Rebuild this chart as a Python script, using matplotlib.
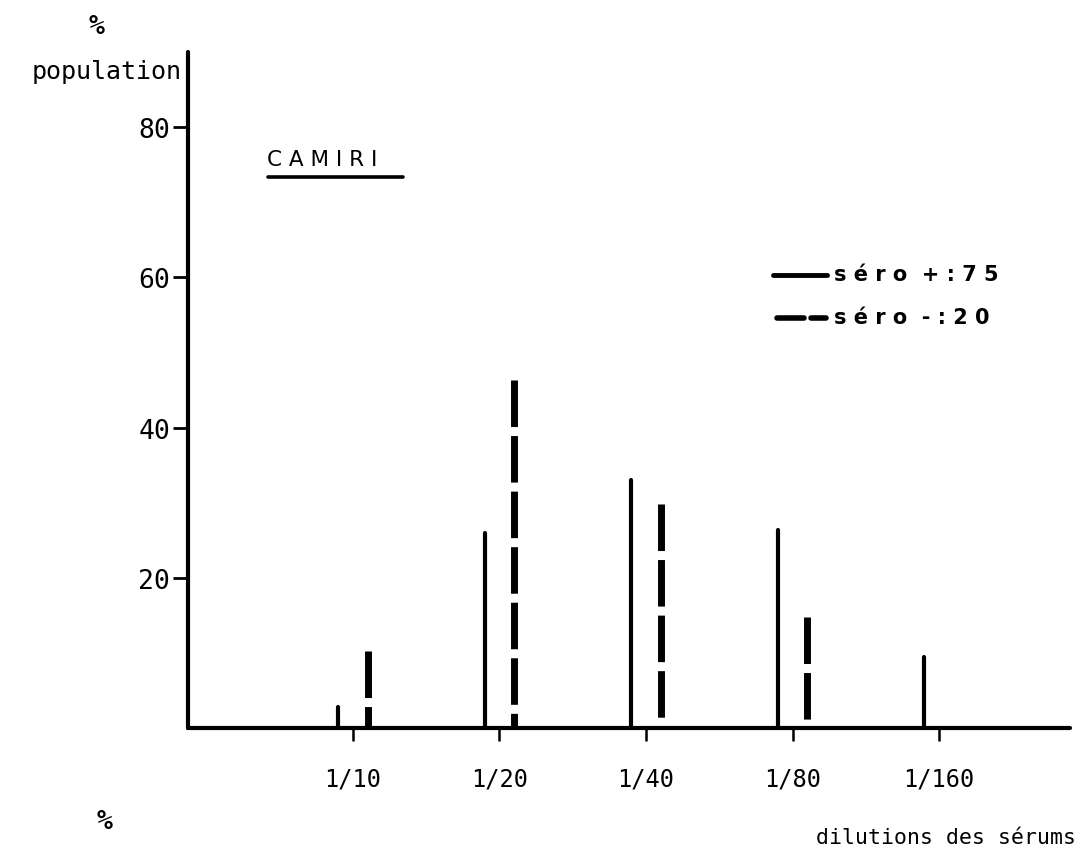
import matplotlib
matplotlib.use("Agg")
import matplotlib.pyplot as plt
from matplotlib.lines import Line2D

# Serum dilutions and % of population at each titre
dilutions = ["1/10", "1/20", "1/40", "1/80", "1/160"]
sero_pos = [2.8, 26.0, 33.0, 26.3, 9.5]     # séro + (n = 75)
sero_neg = [10.3, 46.3, 29.8, 14.8]         # séro - (n = 20), none at 1/160
y_ticks = [20, 40, 60, 80]

W, H, DPI = 1085, 854, 100
fig = plt.figure(figsize=(W / DPI, H / DPI), dpi=DPI)
fig.patch.set_facecolor("white")

def fx(px):
    return px / W

def fy(py):
    return 1 - py / H

ax = fig.add_axes([fx(188), fy(729), fx(1070) - fx(188), fy(53) - fy(729)])
ax.set_xlim(-1.126, 4.894)
ax.set_ylim(0, 90)

mono = "DejaVu Sans Mono"
offset = 0.102

# séro + : solid thin bars, left of each tick
for i, v in enumerate(sero_pos):
    ax.plot([i - offset, i - offset], [0, v], color="black", lw=3.0,
            solid_capstyle="round", zorder=3)

# séro - : dashed thick bars, right of each tick, dashes start from the top
for i, v in enumerate(sero_neg):
    ax.plot([i + offset, i + offset], [v, 0], color="black", lw=5.0,
            linestyle=(0, (6.7, 1.3)), dash_capstyle="butt", zorder=3)

# axes styling
for side in ("top", "right"):
    ax.spines[side].set_visible(False)
ax.spines["left"].set_linewidth(3.0)
ax.spines["bottom"].set_linewidth(3.0)
ax.spines["left"].set_capstyle("round")
ax.spines["bottom"].set_capstyle("round")

ax.set_yticks(y_ticks)
ax.set_yticklabels([str(t) for t in y_ticks], fontsize=19, family=mono)
ax.tick_params(axis="y", direction="out", length=11, width=2.0, pad=2)

ax.set_xticks(range(len(dilutions)))
ax.set_xticklabels(dilutions, fontsize=17, family=mono)
ax.tick_params(axis="x", direction="out", length=9, width=1.8, pad=19)

# axis captions
fig.text(fx(97), fy(27), "%", fontsize=19, family=mono, fontweight="bold",
         ha="center", va="center", style="italic")
fig.text(fx(182), fy(72), "population", fontsize=18, family=mono,
         ha="right", va="center")
fig.text(fx(105), fy(822), "%", fontsize=19, family=mono, fontweight="bold",
         ha="center", va="center", style="italic")
fig.text(fx(1076), fy(838), "dilutions des sérums", fontsize=15.5, family=mono,
         ha="right", va="center")

# site name, underlined
fig.text(fx(267), fy(160), "C A M I R I", fontsize=15.5, family="DejaVu Sans",
         ha="left", va="center")
fig.add_artist(Line2D([fx(268), fx(403)], [fy(178), fy(178)],
                      transform=fig.transFigure, color="black", lw=2.6,
                      solid_capstyle="round"))

# legend
fig.add_artist(Line2D([fx(773), fx(827)], [fy(276), fy(276)],
                      transform=fig.transFigure, color="black", lw=3.5,
                      solid_capstyle="round"))
fig.add_artist(Line2D([fx(777), fx(804)], [fy(319), fy(319)],
                      transform=fig.transFigure, color="black", lw=4.0,
                      solid_capstyle="round"))
fig.add_artist(Line2D([fx(811), fx(826)], [fy(319), fy(319)],
                      transform=fig.transFigure, color="black", lw=4.0,
                      solid_capstyle="round"))
fig.text(fx(834), fy(275), "s é r o  + : 7 5", fontsize=15,
         family="DejaVu Sans", fontweight="bold", ha="left", va="center")
fig.text(fx(834), fy(318), "s é r o  - : 2 0", fontsize=15,
         family="DejaVu Sans", fontweight="bold", ha="left", va="center")

fig.savefig("out.png", dpi=DPI, facecolor="white")
